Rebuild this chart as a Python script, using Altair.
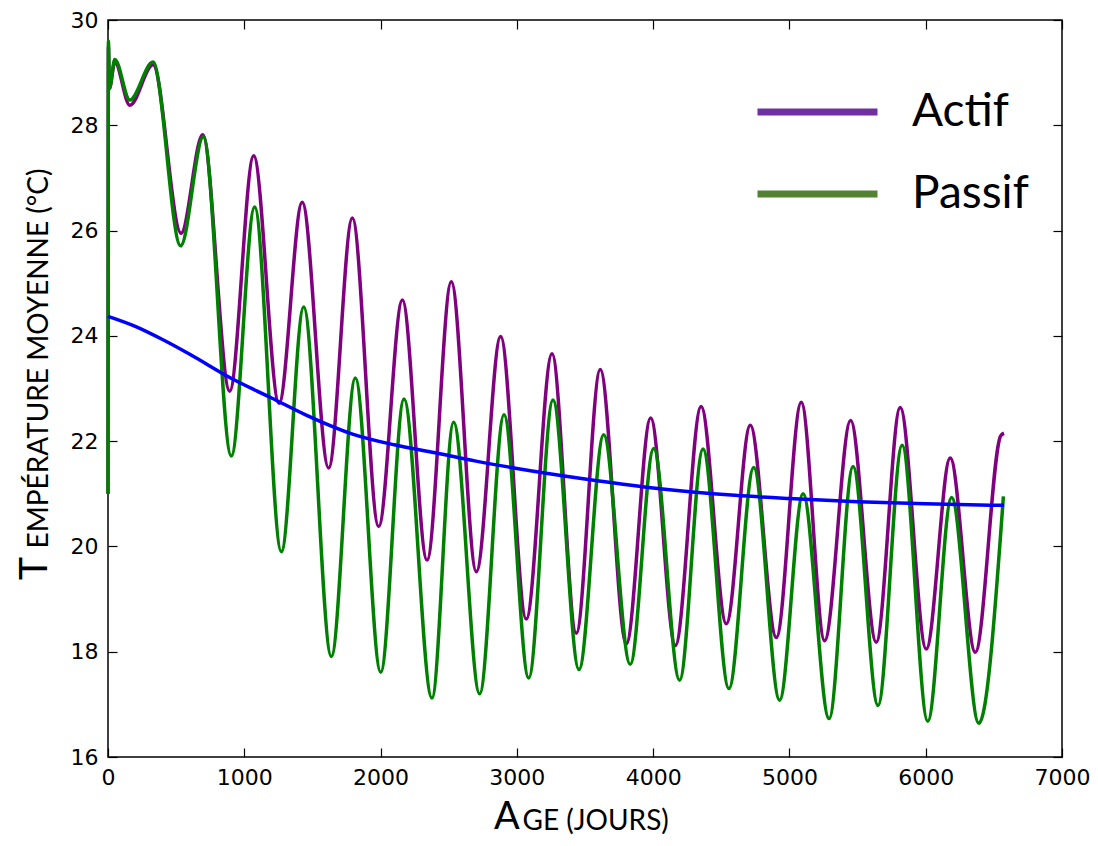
import altair as alt
import pandas as pd

# ---- data ----
actif_age = [0, 3, 10, 50, 160, 330, 536, 695, 893, 1069, 1255, 1425, 1619, 1793, 1986, 2160,
             2341, 2519, 2703, 2881, 3069, 3258, 3436, 3612, 3803, 3982, 4163, 4352, 4537,
             4713, 4904, 5087, 5258, 5449, 5637, 5813, 6004, 6180, 6364, 6550, 6575]
actif_temp = [21.0, 29.5, 28.7, 29.2, 28.38, 29.15, 25.95, 27.82, 22.95, 27.42, 22.72, 26.54,
              21.49, 26.24, 20.38, 24.68, 19.74, 25.03, 19.52, 23.99, 18.62, 23.66, 18.35,
              23.36, 18.15, 22.44, 18.12, 22.66, 18.53, 22.30, 18.27, 22.74, 18.21, 22.39,
              18.18, 22.64, 18.05, 21.68, 17.99, 22.1, 22.15]

passif_age = [0, 3, 10, 50, 160, 330, 533, 700, 905, 1076, 1272, 1436, 1639, 1815, 2001, 2172,
              2377, 2536, 2727, 2906, 3087, 3265, 3456, 3637, 3832, 4004, 4194, 4366, 4556,
              4738, 4928, 5100, 5291, 5467, 5650, 5827, 6015, 6190, 6390, 6570]
passif_temp = [21.0, 29.6, 28.7, 29.25, 28.48, 29.2, 25.71, 27.78, 21.72, 26.45, 19.9, 24.55,
               17.91, 23.2, 17.61, 22.8, 17.12, 22.36, 17.2, 22.5, 17.5, 22.78, 17.66, 22.12,
               17.76, 21.86, 17.46, 21.85, 17.3, 21.5, 17.08, 21.0, 16.73, 21.52, 16.98,
               21.92, 16.68, 20.93, 16.64, 20.95]

moy_age = [0, 200, 400, 600, 900, 1200, 1450, 1800, 2100, 2400, 2700, 3000, 3500, 4000,
           4600, 5000, 5500, 6000, 6575]
moy_temp = [24.37, 24.18, 23.93, 23.65, 23.2, 22.82, 22.5, 22.13, 21.93, 21.78, 21.62, 21.48,
            21.28, 21.11, 20.97, 20.91, 20.85, 20.81, 20.78]

legend_labels = ["Actif", "Passif"]
legend_colors = ["#7030A0", "#548235"]
x_ticks = [0, 1000, 2000, 3000, 4000, 5000, 6000, 7000]
y_ticks = [16, 18, 20, 22, 24, 26, 28, 30]

# axis titles in small capitals: initial letter + rest
x_title_initial = ["A"]
x_title_rest = "GE (JOURS)"
y_title_initial = ["T"]
y_title_rest = "EMPÉRATURE MOYENNE (°C)"

df_actif = pd.DataFrame({"age": actif_age, "temp": actif_temp, "serie": "Actif"})
df_passif = pd.DataFrame({"age": passif_age, "temp": passif_temp, "serie": "Passif"})
df_moy = pd.DataFrame({"age": moy_age, "temp": moy_temp, "serie": "Moyenne"})

xs = alt.Scale(domain=[0, 7000], nice=False, zero=False)
ys = alt.Scale(domain=[16, 30], nice=False, zero=False)

LABEL_FONT = "DejaVu Sans"
TITLE_FONT = "Lato"
TOP = 20          # plot top in page pixels (page margin 8 + padding 12)
H = 737
XT_BASE = 72      # x-title baseline below plot bottom

main_x_axis = alt.Axis(values=x_ticks, format="d", ticks=False, domain=False, grid=False,
                       labelFont=LABEL_FONT, labelFontSize=22, labelColor="black",
                       labelPadding=10, labelFlush=False, labelOverlap=False,
                       title=x_title_rest, titleFont=TITLE_FONT, titleFontSize=28,
                       titleFontWeight="normal", titleColor="black",
                       titleX=414, titleY=XT_BASE, titleBaseline="alphabetic", titleAlign="left")
main_y_axis = alt.Axis(values=y_ticks, format="d", ticks=False, domain=False, grid=False,
                       labelFont=LABEL_FONT, labelFontSize=22, labelColor="black",
                       labelPadding=10, labelFlush=False, labelOverlap=False,
                       title=y_title_rest, titleFont=TITLE_FONT, titleFontSize=28,
                       titleFontWeight="normal", titleColor="black",
                       titleX=-61, titleY=548 - TOP, titleAngle=270, titleBaseline="alphabetic",
                       titleAlign="left")


def tick_axis(vals, orient):
    return alt.Axis(values=vals, orient=orient, offset=-9, tickSize=9, tickWidth=1.2,
                    tickColor="black", labels=False, domain=False, grid=False, title="")


l_actif = alt.Chart(df_actif).mark_line(interpolate="monotone", strokeWidth=3.5,
                                        color="#800080").encode(
    x=alt.X("age:Q", scale=xs, axis=main_x_axis),
    y=alt.Y("temp:Q", scale=ys, axis=main_y_axis),
)
l_passif = alt.Chart(df_passif).mark_line(interpolate="monotone", strokeWidth=3.5,
                                          color="#008000").encode(
    x=alt.X("age:Q", scale=xs, axis=tick_axis(x_ticks, "bottom")),
    y=alt.Y("temp:Q", scale=ys, axis=tick_axis(y_ticks, "left")),
)
l_moy = alt.Chart(df_moy).mark_line(interpolate="monotone", strokeWidth=3.5,
                                    color="#0000FF").encode(
    x=alt.X("age:Q", scale=xs, axis=tick_axis(x_ticks, "top")),
    y=alt.Y("temp:Q", scale=ys, axis=tick_axis(y_ticks, "right")),
)
l_leg = alt.Chart(df_actif).transform_filter("datum.age < -1").mark_line().encode(
    x=alt.X("age:Q", scale=xs, axis=None),
    y=alt.Y("temp:Q", scale=ys, axis=None),
    color=alt.Color("serie:N",
                    scale=alt.Scale(domain=legend_labels, range=legend_colors),
                    legend=alt.Legend(orient="none", legendX=646, legendY=72, title=None,
                                      symbolType="stroke", symbolSize=14400,
                                      symbolStrokeWidth=7, labelFont=TITLE_FONT,
                                      labelFontSize=46, labelColor="black",
                                      labelOffset=31, clipHeight=40, rowPadding=36,
                                      labelLimit=400)),
)

# big initial letters of the small-caps axis titles
l_x_init = alt.Chart(pd.DataFrame({"lettre": x_title_initial})).mark_text(
    font=TITLE_FONT, fontSize=38, align="left", baseline="alphabetic", color="black"
).encode(text="lettre:N", x=alt.value(386), y=alt.value(H + XT_BASE))
l_y_init = alt.Chart(pd.DataFrame({"lettre": y_title_initial})).mark_text(
    font=TITLE_FONT, fontSize=39, align="left", baseline="alphabetic", color="black",
    angle=270
).encode(text="lettre:N", x=alt.value(-61), y=alt.value(580 - TOP))

chart = alt.layer(l_actif, l_passif, l_moy, l_leg, l_x_init, l_y_init).resolve_axis(
    x="independent", y="independent"
).properties(
    width=954, height=H,
    autosize=alt.AutoSizeParams(type="none"),
    padding={"left": 100, "top": TOP - 8, "right": 28, "bottom": 830 - (TOP - 8) - H},
    background="white",
).configure_view(stroke="black", strokeWidth=1.5)

chart.save("out.html", embed_options={"renderer": "svg", "actions": False})
